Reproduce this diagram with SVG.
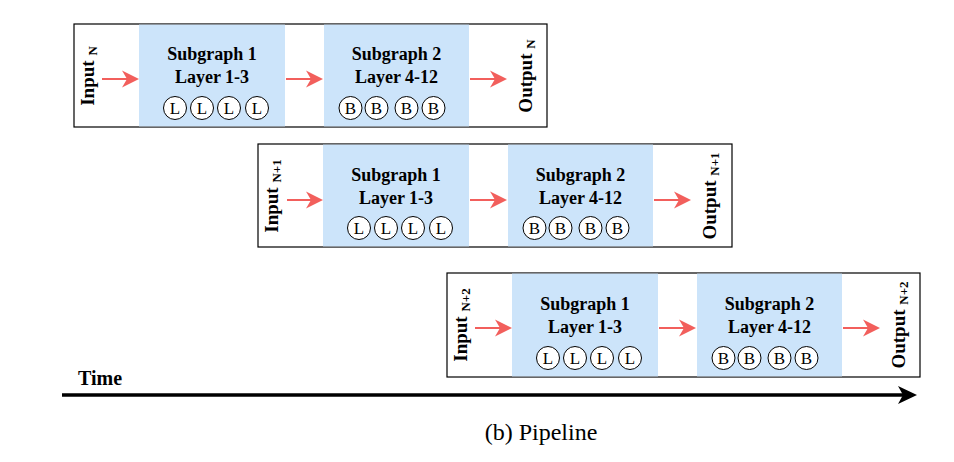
<svg xmlns="http://www.w3.org/2000/svg" width="954" height="462" viewBox="0 0 954 462">
<style>
.frame{fill:#fff;stroke:#000;stroke-width:1.2}
.blue{fill:#cce4fa}
.t{font-family:"Liberation Serif","Times New Roman",serif;font-weight:bold;font-size:18px;fill:#000;text-anchor:middle}
.io{font-family:"Liberation Serif","Times New Roman",serif;font-weight:bold;font-size:19px;fill:#000;text-anchor:middle}
.sub{font-size:13px}
.unit{fill:#fff;stroke:#000;stroke-width:1}
.ul{font-family:"Liberation Serif","Times New Roman",serif;font-size:17px;fill:#000;text-anchor:middle}
.arr{stroke:#f25f5c;stroke-width:2;fill:none;marker-end:url(#rh)}
</style>
<defs>
<marker id="rh" markerUnits="userSpaceOnUse" viewBox="0 0 18 18" refX="12" refY="9" markerWidth="18" markerHeight="18" orient="auto">
<path d="M0,0.5 L17,9 L0,17.5 L5,9 Z" fill="#f25f5c"/>
</marker>
<g id="lunits">
<circle class="unit" cx="101" cy="84" r="11.5"/><text class="ul" x="101" y="90">L</text>
<circle class="unit" cx="128" cy="84" r="11.5"/><text class="ul" x="128" y="90">L</text>
<circle class="unit" cx="155" cy="84" r="11.5"/><text class="ul" x="155" y="90">L</text>
<circle class="unit" cx="183" cy="84" r="11.5"/><text class="ul" x="183" y="90">L</text>
</g>
<g id="bunits">
<circle class="unit" cx="276.5" cy="84" r="11.5"/><text class="ul" x="276.5" y="90">B</text>
<circle class="unit" cx="302.5" cy="84" r="11.5"/><text class="ul" x="302.5" y="90">B</text>
<circle class="unit" cx="332.5" cy="84" r="11.5"/><text class="ul" x="332.5" y="90">B</text>
<circle class="unit" cx="359.5" cy="84" r="11.5"/><text class="ul" x="359.5" y="90">B</text>
</g>
</defs>

<!-- Row N -->
<g transform="translate(74,24)">
<g id="pipeline-n"><rect class="frame" x="0" y="0" width="473" height="103"/></g>
<g id="input-n"><text class="io" transform="translate(20,52) rotate(-90)">Input <tspan class="sub" dy="3">N</tspan></text></g>
<g id="subgraph1-n"><rect class="blue" x="65" y="0.6" width="146" height="101.8"/>
<text class="t" x="138" y="36">Subgraph 1</text><text class="t" x="138" y="59">Layer 1-3</text><use href="#lunits"/></g>
<g id="subgraph2-n"><rect class="blue" x="250" y="0.6" width="145" height="101.8"/>
<text class="t" x="322.5" y="36">Subgraph 2</text><text class="t" x="322.5" y="59">Layer 4-12</text><use href="#bunits"/></g>
<g id="output-n"><text class="io" transform="translate(458,52) rotate(-90)">Output <tspan class="sub" dy="3">N</tspan></text></g>
<g id="connectors-n">
<line class="arr" x1="28" y1="55" x2="60" y2="55"/>
<line class="arr" x1="212" y1="55" x2="244" y2="55"/>
<line class="arr" x1="396" y1="55" x2="428" y2="55"/>
</g>
</g>

<!-- Row N+1 -->
<g transform="translate(258,144)">
<g id="pipeline-n1"><rect class="frame" x="0" y="0" width="474" height="103"/></g>
<g id="input-n1"><text class="io" transform="translate(20,52) rotate(-90)">Input <tspan class="sub" dy="3">N+1</tspan></text></g>
<g id="subgraph1-n1"><rect class="blue" x="65" y="0.6" width="146" height="101.8"/>
<text class="t" x="138" y="37">Subgraph 1</text><text class="t" x="138" y="60">Layer 1-3</text><use href="#lunits"/></g>
<g id="subgraph2-n1"><rect class="blue" x="250" y="0.6" width="145" height="101.8"/>
<text class="t" x="322.5" y="37">Subgraph 2</text><text class="t" x="322.5" y="60">Layer 4-12</text><use href="#bunits"/></g>
<g id="output-n1"><text class="io" transform="translate(458,52) rotate(-90)">Output <tspan class="sub" dy="3">N+1</tspan></text></g>
<g id="connectors-n1">
<line class="arr" x1="29" y1="56" x2="60" y2="56"/>
<line class="arr" x1="212" y1="56" x2="244" y2="56"/>
<line class="arr" x1="396" y1="56" x2="428" y2="56"/>
</g>
</g>

<!-- Row N+2 -->
<g transform="translate(447,273)">
<g id="pipeline-n2"><rect class="frame" x="0" y="0" width="473" height="104"/></g>
<g id="input-n2"><text class="io" transform="translate(20,52) rotate(-90)">Input <tspan class="sub" dy="3">N+2</tspan></text></g>
<g id="subgraph1-n2"><rect class="blue" x="65" y="0.6" width="146" height="102.8"/>
<text class="t" x="138" y="37">Subgraph 1</text><text class="t" x="138" y="60">Layer 1-3</text><use href="#lunits" transform="translate(0,1)"/></g>
<g id="subgraph2-n2"><rect class="blue" x="250" y="0.6" width="145" height="102.8"/>
<text class="t" x="322.5" y="37">Subgraph 2</text><text class="t" x="322.5" y="60">Layer 4-12</text><use href="#bunits" transform="translate(0,1)"/></g>
<g id="output-n2"><text class="io" transform="translate(458,52) rotate(-90)">Output <tspan class="sub" dy="3">N+2</tspan></text></g>
<g id="connectors-n2">
<line class="arr" x1="28" y1="55" x2="60" y2="55"/>
<line class="arr" x1="212" y1="55" x2="244" y2="55"/>
<line class="arr" x1="396" y1="55" x2="428" y2="55"/>
</g>
</g>

<!-- Time axis -->
<g id="time-axis">
<text x="78" y="385" font-family="Liberation Serif, Times New Roman, serif" font-weight="bold" font-size="20">Time</text>
<line x1="62" y1="395" x2="904" y2="395" stroke="#000" stroke-width="3.5"/>
<path d="M917,395 L898,386 L903,395 L898,404 Z" fill="#000"/>
</g>

<text x="541" y="440" font-family="Liberation Serif, Times New Roman, serif" font-size="24" text-anchor="middle">(b) Pipeline</text>
</svg>
